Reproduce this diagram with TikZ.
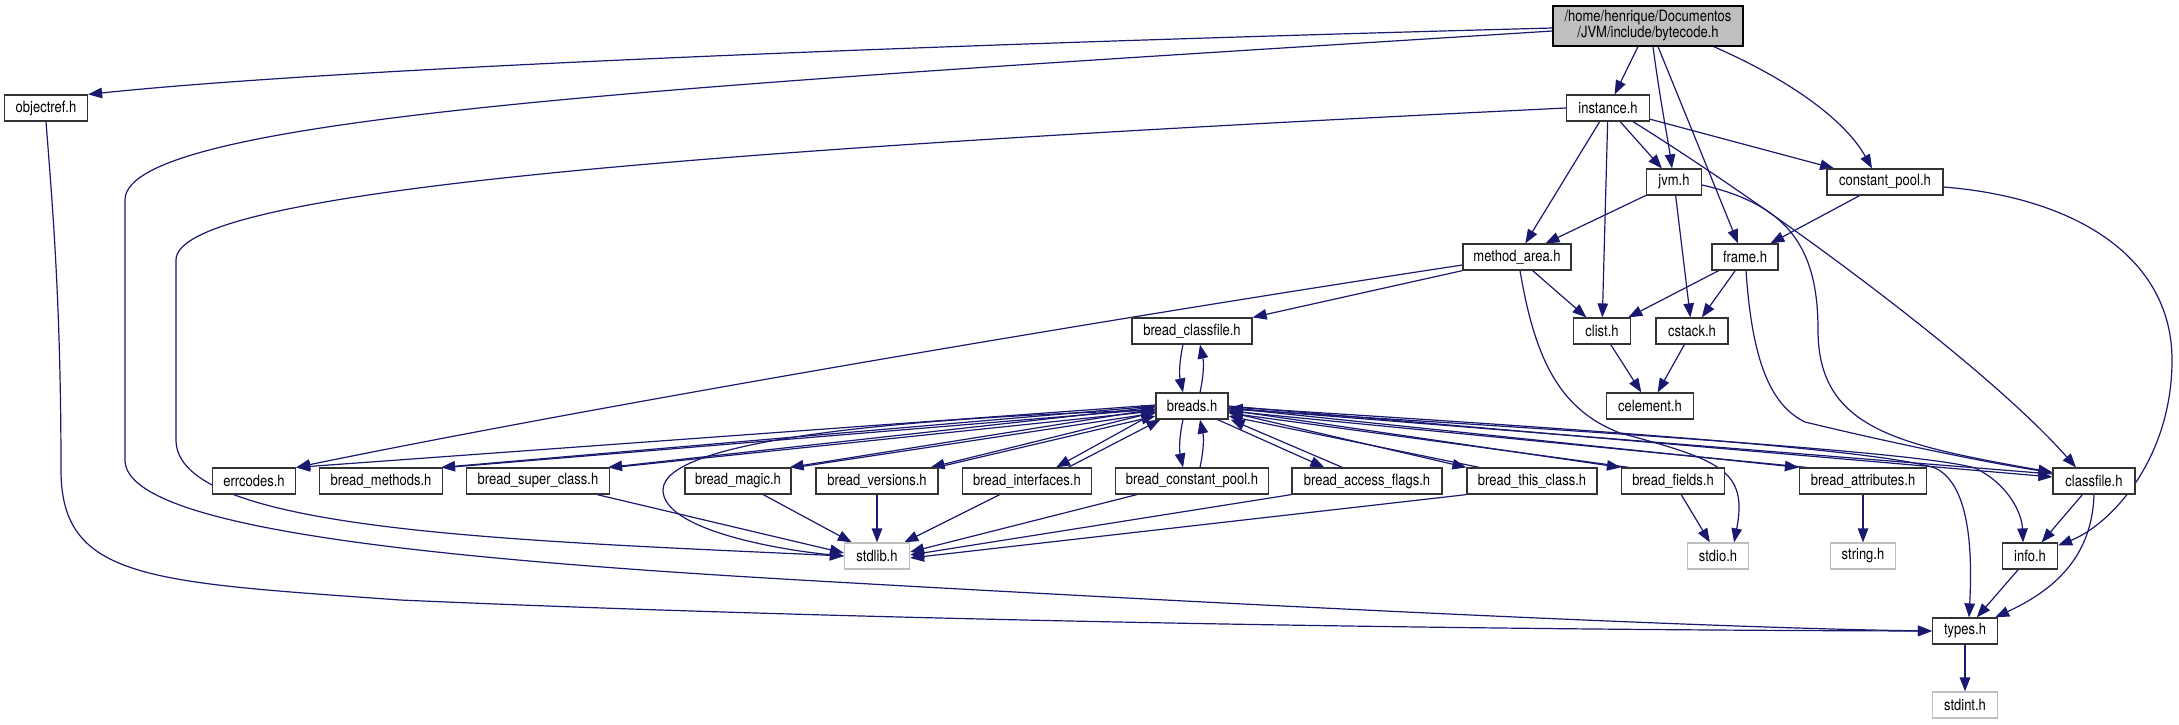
\documentclass[tikz,border=0pt]{standalone}
\usepackage{fontspec}
\usepackage{graphicx}
\setmainfont{TeX Gyre Heros}
\usetikzlibrary{arrows.meta,calc}
\definecolor{edgeblue}{HTML}{191970}
\definecolor{extgray}{HTML}{BFBFBF}
\newcommand{\lb}[1]{\scalebox{1}[1.2]{#1}}
\pgfdeclarelayer{bg}
\pgfsetlayers{bg,main}
\begin{document}
\begin{tikzpicture}[x=1pt,y=-1pt,
  box/.style={draw=black!80, line width=1.2pt, fill=white, minimum height=26pt,
    inner sep=0pt, font=\fontsize{13}{15}\selectfont},
  ext/.style={box, draw=extgray},
  e/.style={draw=edgeblue, line width=1.2pt, -{Triangle[length=14pt,width=10.5pt]}}]
\useasboundingbox (0,0) rectangle (2179,724);

% nodes
\node[box, fill=extgray, draw=black, minimum width=190pt, minimum height=40pt, align=center] (bytecode) at (1648,26) {\lb{/home/henrique/Documentos}\\[1pt]\lb{/JVM/include/bytecode.h}};
\node[box, minimum width=83pt] (objectref) at (46,108) {\lb{objectref.h}};
\node[box, minimum width=83pt] (instance) at (1608,108) {\lb{instance.h}};
\node[box, minimum width=55pt] (jvm) at (1674,182) {\lb{jvm.h}};
\node[box, minimum width=116pt] (cpool) at (1885,182) {\lb{constant\_pool.h}};
\node[box, minimum width=108pt] (marea) at (1517,257) {\lb{method\_area.h}};
\node[box, minimum width=66pt] (frame) at (1745,257) {\lb{frame.h}};
\node[box, minimum width=120pt] (bclassfile) at (1192,331) {\lb{bread\_classfile.h}};
\node[box, minimum width=57pt] (clist) at (1602,331) {\lb{clist.h}};
\node[box, minimum width=72pt] (cstack) at (1692,331) {\lb{cstack.h}};
\node[box, minimum width=72pt] (breads) at (1192,406) {\lb{breads.h}};
\node[box, minimum width=87pt] (celement) at (1650,406) {\lb{celement.h}};
\node[box, minimum width=83pt] (errcodes) at (254,481) {\lb{errcodes.h}};
\node[box, minimum width=123pt] (bmethods) at (381,481) {\lb{bread\_methods.h}};
\node[box, minimum width=143pt] (bsuper) at (538,481) {\lb{bread\_super\_class.h}};
\node[box, minimum width=106pt] (bmagic) at (738,481) {\lb{bread\_magic.h}};
\node[box, minimum width=122pt] (bversions) at (877,481) {\lb{bread\_versions.h}};
\node[box, minimum width=129pt] (binterfaces) at (1027,481) {\lb{bread\_interfaces.h}};
\node[box, minimum width=153pt] (bcpool) at (1192,481) {\lb{bread\_constant\_pool.h}};
\node[box, minimum width=150pt] (baccess) at (1367,481) {\lb{bread\_access\_flags.h}};
\node[box, minimum width=130pt] (bthis) at (1532,481) {\lb{bread\_this\_class.h}};
\node[box, minimum width=103pt] (bfields) at (1673,481) {\lb{bread\_fields.h}};
\node[box, minimum width=127pt] (battr) at (1863,481) {\lb{bread\_attributes.h}};
\node[box, minimum width=82pt] (classfile) at (2094,481) {\lb{classfile.h}};
\node[ext, minimum width=65pt] (stdlib) at (877,556) {\lb{stdlib.h}};
\node[ext, minimum width=61pt] (stdio) at (1718,556) {\lb{stdio.h}};
\node[ext, minimum width=65pt] (string) at (1863,556) {\lb{string.h}};
\node[box, minimum width=55pt] (info) at (2030,556) {\lb{info.h}};
\node[box, minimum width=65pt] (types) at (1965,631) {\lb{types.h}};
\node[ext, minimum width=65pt] (stdint) at (1965,705) {\lb{stdint.h}};

\begin{pgfonlayer}{bg}
% bytecode.h
\draw[e] ($(bytecode.west)+(0,2)$) .. controls (800,48) and (300,72) .. (objectref.north east);
\draw[e] ($(bytecode.west)+(0,5)$) .. controls (700,85) and (125,115) .. (125,200) -- (125,460)
  .. controls (125,525) and (400,557) .. (800,580) .. controls (1200,603) and (1700,628) .. (types.west);
\draw[e] (bytecode) -- (instance);
\draw[e] ($(bytecode.south)+(5,0)$) .. controls (1660,100) and (1668,140) .. ($(jvm.north)+(-2,0)$);
\draw[e] ($(bytecode.south)+(10,0)$) -- ($(frame.north)+(-7,0)$);
\draw[e] ($(bytecode.south east)+(-30,0)$) .. controls (1790,80) and (1845,120) .. ($(cpool.north)+(-13,0)$);
% objectref.h
\draw[e] (objectref.south) .. controls (52,200) and (61,300) .. (61,470)
  .. controls (61,580) and (150,582) .. (400,600) .. controls (900,622) and (1500,630) .. (types.west);
% instance.h
\draw[e] (instance.west) .. controls (700,150) and (176,190) .. (176,260) -- (176,440)
  .. controls (176,530) and (500,540) .. (stdlib.west);
\draw[e] (instance) -- (marea);
\draw[e] (instance) -- (clist);
\draw[e] (instance) -- (jvm);
\draw[e] (instance) -- (cpool);
\draw[e] ($(instance.south)+(25,0)$) .. controls (1790,220) and (1990,370) .. ($(classfile.north)+(-18,0)$);
% jvm.h
\draw[e] (jvm) -- (marea);
\draw[e] (jvm) -- (cstack);
\draw[e] ($(jvm.east)+(0,3)$) .. controls (1790,205) and (1818,250) .. (1818,330)
  .. controls (1818,430) and (1900,445) .. ($(classfile.north west)+(0,5)$);
% constant_pool.h
\draw[e] (cpool) -- (frame);
\draw[e] ($(cpool.east)+(0,5)$) .. controls (2080,198) and (2172,260) .. (2172,360)
  .. controls (2172,460) and (2110,525) .. ($(info.north east)+(0,3)$);
% method_area.h
\draw[e] ($(marea.west)+(0,8)$) .. controls (1100,320) and (600,405) .. (errcodes.north east);
\draw[e] (marea.south west) -- (bclassfile.north east);
\draw[e] (marea) -- (clist);
\draw[e] ($(marea.south)+(3,0)$) .. controls (1535,360) and (1560,410) .. (1620,433)
  .. controls (1720,460) and (1748,470) .. ($(stdio.north east)+(-15,0)$);
% frame.h
\draw[e] (frame) -- (clist);
\draw[e] (frame) -- (cstack);
\draw[e] ($(frame.south)+(1,0)$) .. controls (1752,360) and (1770,405) .. (1805,422)
  .. controls (1900,445) and (2000,465) .. ($(classfile.north west)+(0,5)$);
% clist, cstack
\draw[e] (clist) -- (celement);
\draw[e] (cstack) -- (celement);
% bread_classfile <-> breads
\draw[e] ($(bclassfile.south)+(-9,0)$) to[bend right=12] ($(breads.north)+(-9,0)$);
\draw[e] ($(breads.north)+(8,0)$) to[bend right=12] ($(bclassfile.south)+(8,0)$);
% breads <-> bread_constant_pool
\draw[e] ($(breads.south)+(-9,0)$) to[bend right=12] ($(bcpool.north)+(-9,0)$);
\draw[e] ($(bcpool.north)+(8,0)$) to[bend right=12] ($(breads.south)+(8,0)$);
% breads fan, left
\draw[e] ($(breads.west)+(0,-1)$) -- (errcodes.north east);
\draw[e] ($(breads.west)+(0,0)$) -- ($(bmethods.north east)+(-2,0)$);
\draw[e] ($(bmethods.north east)+(4,0)$) -- ($(breads.west)+(0,3)$);
\draw[e] ($(breads.west)+(0,1)$) -- ($(bsuper.north east)+(-2,0)$);
\draw[e] ($(bsuper.north east)+(4,0)$) -- ($(breads.west)+(0,5)$);
\draw[e] ($(breads.west)+(0,3)$) -- ($(bmagic.north east)+(-2,0)$);
\draw[e] ($(bmagic.north east)+(4,0)$) -- ($(breads.west)+(0,7)$);
\draw[e] ($(breads.west)+(0,6)$) -- ($(bversions.north east)+(-8,0)$);
\draw[e] ($(bversions.north east)+(-2,0)$) -- ($(breads.west)+(0,10)$);
\draw[e] ($(breads.south west)+(-2,-6)$) -- ($(binterfaces.north east)+(-36,0)$);
\draw[e] ($(binterfaces.north east)+(-24,0)$) -- ($(breads.south west)+(5,0)$);
% breads fan, right
\draw[e] ($(breads.south east)+(-11,0)$) -- ($(baccess.north west)+(33,0)$);
\draw[e] ($(baccess.north west)+(51,0)$) -- ($(breads.south east)+(2,0)$);
\draw[e] ($(breads.east)+(0,6)$) -- (bthis.north west);
\draw[e] ($(bthis.north west)+(13,0)$) -- ($(breads.east)+(0,10)$);
\draw[e] ($(breads.east)+(0,4)$) -- (bfields.north west);
\draw[e] ($(bfields.north west)+(8,0)$) -- ($(breads.east)+(0,7)$);
\draw[e] ($(breads.east)+(0,2)$) -- (battr.north west);
\draw[e] ($(battr.north west)+(8,0)$) -- ($(breads.east)+(0,5)$);
\draw[e] ($(breads.east)+(0,0)$) -- ($(classfile.west)+(0,-4)$);
\draw[e] ($(classfile.west)+(0,-7)$) -- ($(breads.east)+(0,2)$);
\draw[e] ($(breads.east)+(0,1)$) .. controls (1600,430) and (1880,450) .. (1935,468)
  .. controls (1972,485) and (1972,560) .. ($(types.north)+(4,0)$);
\draw[e] ($(breads.east)+(0,3)$) .. controls (1600,432) and (1920,452) .. (1975,468)
  .. controls (2010,485) and (2022,515) .. ($(info.north)+(-7,0)$);
\draw[e] ($(breads.west)+(0,4)$) .. controls (900,418) and (663,440) .. (663,490)
  .. controls (663,530) and (780,550) .. (stdlib.west);
% bread_* -> stdlib
\draw[e] ($(bsuper.south east)+(-13,0)$) -- ($(stdlib.west)+(0,-3)$);
\draw[e] (bmagic) -- (stdlib);
\draw[e] (bversions) -- (stdlib);
\draw[e] (binterfaces) -- (stdlib);
\draw[e] ($(bcpool.south west)+(22,0)$) -- ($(stdlib.east)+(0,-4)$);
\draw[e] (baccess.south west) -- ($(stdlib.east)+(0,-1)$);
\draw[e] (bthis.south west) -- ($(stdlib.east)+(0,2)$);
\draw[e] (bfields) -- (stdio);
\draw[e] (battr) -- (string);
% classfile, info, types
\draw[e] (classfile) -- (info);
\draw[e] (classfile.south) .. controls (2092,560) and (2050,592) .. ($(types.north east)+(-3,0)$);
\draw[e] (info) -- (types);
\draw[e] (types) -- (stdint);
\end{pgfonlayer}
\end{tikzpicture}
\end{document}
